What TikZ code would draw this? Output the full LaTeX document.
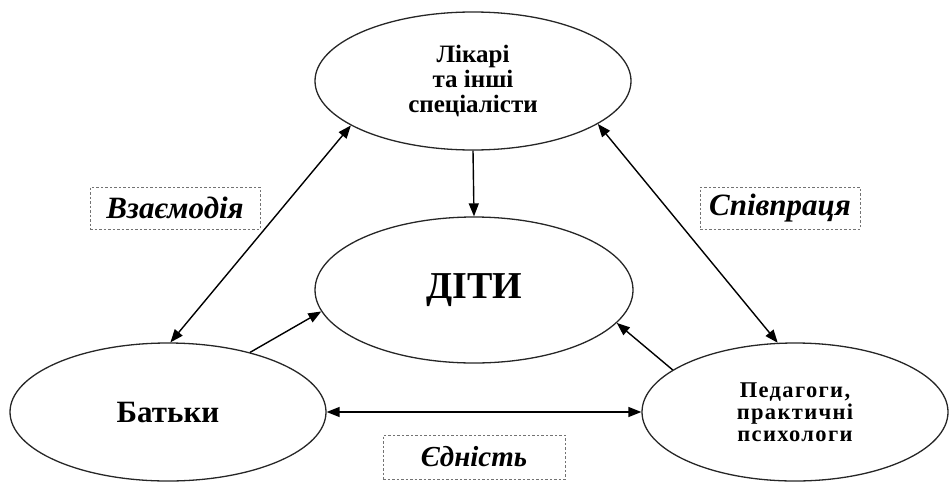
\documentclass[tikz,border=0pt]{standalone}
\usepackage{fontspec}
\setmainfont{Liberation Serif}
\usetikzlibrary{shapes.geometric,arrows.meta}
\tikzset{
  oval/.style={ellipse, draw=black!85, line width=1.3pt, inner sep=0pt, align=center,
    font=\bfseries},
  tip/.tip={Triangle[length=13pt,width=10pt]},
  conn/.style={line width=1.4pt, -tip},
  dconn/.style={line width=1.4pt, tip-tip},
  lbl/.style={draw=black!55, line width=1pt, dash pattern=on 2.5pt off 2pt, inner sep=0pt}
}
\begin{document}
\begin{tikzpicture}[x=1pt,y=-1pt]
\path[use as bounding box] (0,0) rectangle (949,482);
\node[oval, minimum width=316pt, minimum height=138pt,
  font=\bfseries\fontsize{25}{25}\selectfont] (med) at (473,81) {Лікарі\\та інші\\спеціалісти};
\node[oval, minimum width=318pt, minimum height=146pt,
  font=\bfseries\fontsize{38}{40}\selectfont] (kids) at (474,290) {ДІТИ};
\node[oval, minimum width=316pt, minimum height=138pt,
  font=\bfseries\fontsize{31}{32}\selectfont] (par) at (168,412) {Батьки};
\node[oval, minimum width=306pt, minimum height=138pt,
  font=\bfseries\fontsize{22.5}{22}\selectfont\addfontfeature{LetterSpace=6}] (ped) at (795,412) {Педагоги,\\практичні\\психологи};
\node[lbl, minimum width=170pt, minimum height=42pt,
  font=\bfseries\itshape\fontsize{31}{32}\selectfont] (l1) at (175,208) {Взаємодія};
\node[lbl, minimum width=160pt, minimum height=42pt,
  font=\bfseries\itshape\fontsize{31}{32}\selectfont] (l2) at (780,208) {Співпраця};
\node[lbl, minimum width=182pt, minimum height=44pt,
  font=\bfseries\itshape\fontsize{29}{30}\selectfont] (l3) at (474,457) {Єдність};
\draw[conn] (med.south) -- (kids.north);
\draw[dconn] (med.200.6) -- (par.88.4);
\draw[dconn] (med.341.4) -- (ped.104.4);
\draw[conn] (par.36.6) -- (kids.188);
\draw[conn] (ped.161) -- (kids.347.4);
\draw[dconn] (par.east) -- (ped.west);
\end{tikzpicture}
\end{document}
